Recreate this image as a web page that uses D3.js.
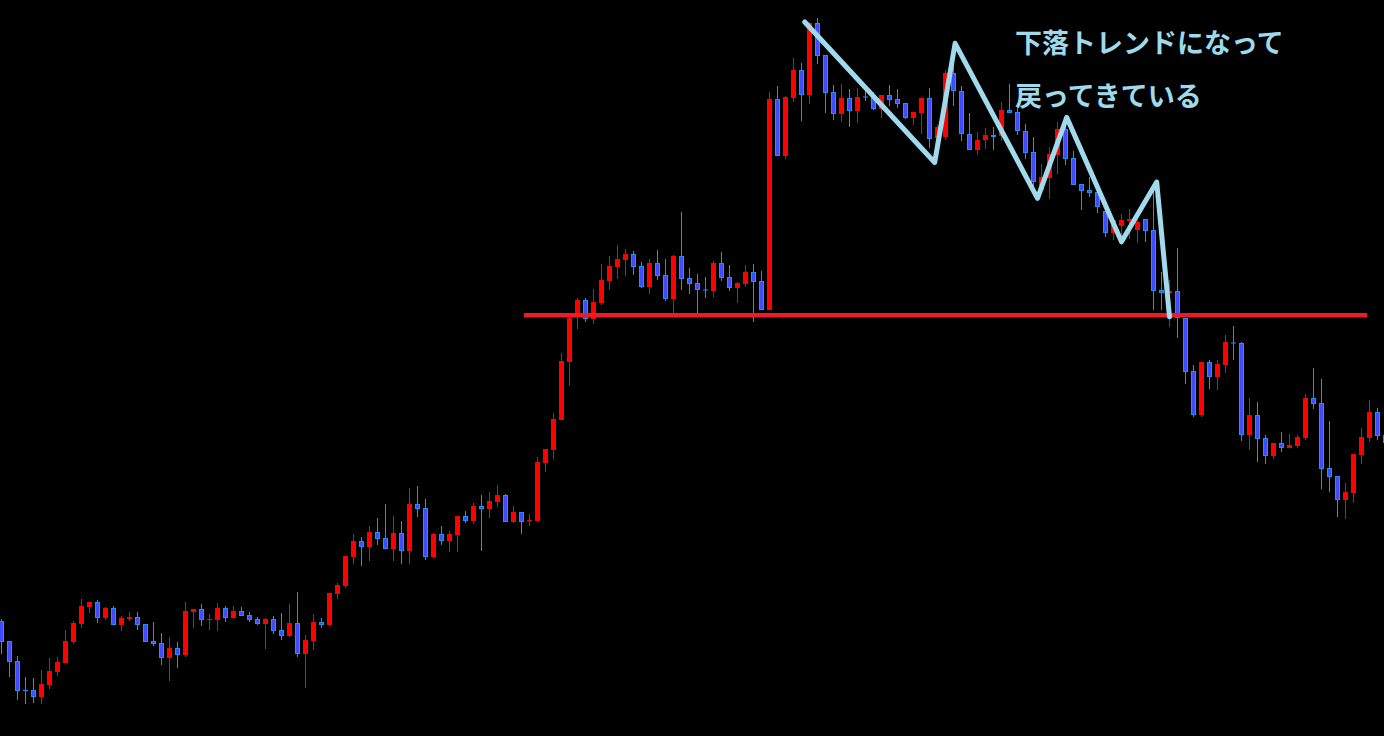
<!DOCTYPE html>
<html><head><meta charset="utf-8">
<script src="https://cdn.jsdelivr.net/npm/d3@7"></script>
<style>html,body{margin:0;padding:0;background:#000;overflow:hidden}</style>
</head><body><svg id="c" width="1384" height="736"></svg>
<script>
// OHLC per candle (index 0..173), arbitrary price units
const open = [379,359,339,310,310,303,315,328,337,358,
376,393,398,382,392,375,381,383,376,359,
357,342,352,345,388,391,380,380,392,382,
389,385,381,376,381,370,364,377,346,359,
378,375,406,414,443,459,453,468,462,451,
467,449,496,492,443,466,459,465,484,479,
494,491,498,505,478,488,479,479,537,550,
580,638,683,700,681,697,719,733,740,746,
734,713,737,725,701,744,722,717,710.5,709,
737,723,712,716,728,719,690,901,844,902,
930,905,977,945,908,886,902,889,903.5,903,
891,905,901,897,882,887,902,862,863,927,
909,866,850,860,865,864,890,888,869,848,
810,822,845,871,842,816,810,808,789,767,
774,779,770,781,770,710,707,709,682,629,
585,638,623,635,657.5,657,565,585,562,544,
557,552,554,562,602,597,532,524,500,507,
545,562,588,565];
const high = [381,359,344,323,322,330,342,343,370,379,
401,398,400,393,394,384,388,388,376,378,
367,363,358,398,391,396,386,397,394,394,
393,388,383,382,384,387,396,408,365,386,
382,407,417,444,466,463,474,482,496,484,
479,512,514,501,467,474,469,484,489,497,
505,508,515,506,494,488,486,543,551,587,
647,684,702,702,711,736,744,755,751,749,
738,741,750,741,745,788,732,726,723,739,
748,735,718,735,736,729,908,914,904,942,
937,978,982,945,915,916,911,912,910,908,
905,915,911,897,888,902,912,875,930,939,
914,887,868,872,873,898,916,895,876,863,
836,853,878,878,849,816,823,808,789,781,
786,791,780,781,814,728,720,752,682,635,
638,640,640,665,674,658,602,598,565,557,
568,566,565,606,632,621,579,524,517,546,
572,600,592,570];
const low = [346,323,300,296,297,296,311,324,337,356,
372,387,377,380,375,369,379,370,358,354,
335,319,332,343,372,374,370,369,378,382,
384,378,375,351,366,360,363,343,312,350,
372,374,401,412,436,434,439,455,451,439,
436,436,483,440,442,455,448,448,477,476,
449,482,493,478,477,466,474,479,528,541,
580,614,671,678,676,695,710,721,724,725,
712,706,720,699,687,710,706,687,702,703,
719,709,697,713,678,690,690,844,841,898,
879,896,936,887,880,878,873,877,899,890,
882,894,892,881,875,866,852,860,860,894,
859,850,845,851,850,859,887,865,841,811,
807,801,826,835,815,790,803,787,763,760,
755,761,757,758,690,690,673,662,616,583,
583,611,610,627,640,559,550,538,536,541,
548,552,552,560,591,511,508,483,481,497,
536,558,560,555];
const close = [358,338,309,309,303,316,329,338,359,377,
394,398,382,392,375,382,383,375,358,356,
342,352,345,389,391,380,381,392,382,389,
384,380,376,381,369,364,377,346,360,378,
375,407,415,444,459,453,468,461,451,467,
449,496,491,443,466,459,466,484,479,494,
491,499,505,478,488,478,480,538,551,581,
639,682,700,681,698,720,734,741,746,733,
713,737,724,701,744,721,716,710,709.5,737,
722,712,717,728,718,690,901,844,903,930,
905,977,944,907,886,902,889,903,902.5,891,
905,900,896,882,888,902,861,873,927,909,
866,850,860,865,863,890,887,869,847,818,
823,846,871,841,815,809,807,793,767,780,
780,781,778,769,709,707,709,682,628,585,
638,623,636,658,656.5,565,585,561,544,557,
552,555,563,602,596,531,523,500,508,546,
563,588,564,557];

// horizontal support/resistance level (price, from index, to index)
const levelPrice = 684.7;
const levelFrom = 65.3, levelTo = 170.7;

// hand-drawn trend zigzag: [bar index, price]
const zigIdx   = [100.4, 116.65, 119.2, 129.5, 133.15, 140.0, 144.4, 146.0];
const zigPrice = [978, 837.5, 956.7, 801.7, 882.7, 758.3, 818, 683.3];

const noteLines = ["下落トレンドになって", "戻ってきている"];

const W = 1384, H = 736;
const svg = d3.select("#c");
svg.append("rect").attr("width", W).attr("height", H).attr("fill", "#000");

const n = open.length;
const x = d3.scaleLinear().domain([0, n - 1]).range([1.5, 1.5 + 8 * (n - 1)]);
const y = d3.scaleLinear().domain([264, 1000]).range([H, 0]);

const bars = d3.range(n).map(i => ({i, o: open[i], h: high[i], l: low[i], c: close[i], up: close[i] > open[i]}));

const UP = "#ff0000", DNFILL = "#3d4dff", DNLINE = "#1e90ff";
const g = svg.append("g");

// wicks
g.selectAll("rect.wick").data(bars).join("rect")
  .attr("class", "wick")
  .attr("x", d => x(d.i) - 0.5)
  .attr("width", 1)
  .attr("y", d => y(d.h))
  .attr("height", d => Math.max(1, y(d.l) - y(d.h)))
  .attr("fill", d => d.up ? UP : DNLINE);

// bodies
const bodyTop = d => y(Math.max(d.o, d.c));
const bodyH = d => Math.max(1, Math.abs(y(d.o) - y(d.c)));
g.selectAll("rect.body").data(bars).join("rect")
  .attr("class", "body")
  .attr("x", d => x(d.i) - 2.5)
  .attr("width", 5)
  .attr("y", bodyTop)
  .attr("height", bodyH)
  .attr("fill", d => d.up ? UP : DNLINE);
g.selectAll("rect.inner").data(bars.filter(d => !d.up && bodyH(d) > 2.5)).join("rect")
  .attr("class", "inner")
  .attr("x", d => x(d.i) - 1.5)
  .attr("width", 3)
  .attr("y", d => bodyTop(d) + 1)
  .attr("height", d => bodyH(d) - 2)
  .attr("fill", DNFILL);

// level line
svg.append("line")
  .attr("x1", x(levelFrom)).attr("x2", x(levelTo))
  .attr("y1", y(levelPrice)).attr("y2", y(levelPrice))
  .attr("stroke", "#ed1c24").attr("stroke-width", 4.5);

// zigzag
const zig = zigIdx.map((v, k) => [v, zigPrice[k]]);
svg.append("path")
  .attr("d", d3.line().x(d => x(d[0])).y(d => y(d[1]))(zig))
  .attr("fill", "none")
  .attr("stroke", "#a0daec")
  .attr("stroke-width", 5)
  .attr("stroke-linejoin", "round")
  .attr("stroke-linecap", "round");

// annotation
svg.selectAll("text.note").data(noteLines).join("text")
  .attr("class", "note")
  .attr("x", 1015)
  .attr("y", (d, k) => 53 + k * 53)
  .attr("fill", "#9fd9ec")
  .attr("font-family", "'Noto Sans CJK JP', sans-serif")
  .attr("font-weight", 700)
  .attr("font-size", 27)
  .text(d => d);
</script>
</body></html>
